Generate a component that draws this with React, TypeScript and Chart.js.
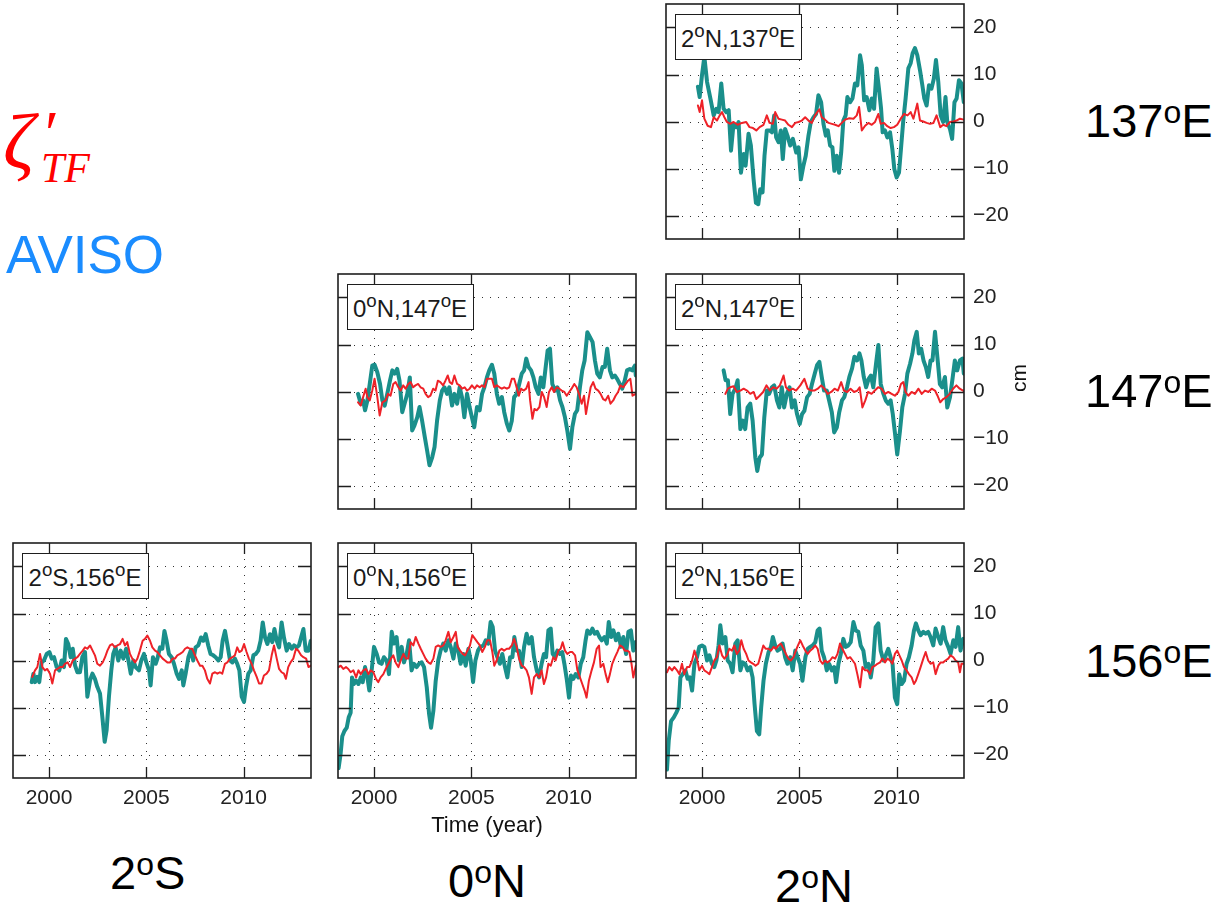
import React, { useEffect, useRef } from 'react';
import { Chart, registerables } from 'chart.js';

Chart.register(...registerables);

// ---------- axis definitions ----------
const X_MIN = 1998.15;
const X_MAX = 2013.46;
const Y_MIN = -25;
const Y_MAX = 25;
const X_TICKS = [2000, 2005, 2010];
const Y_TICKS = [-20, -10, 0, 10, 20];

// ---------- data: [year, cm] ----------
const AVISO_2N_137E: [number, number][] = [
  [1999.79, 7.4], [1999.88, 5.2], [2000.0, 9.9], [2000.12, 13.8], [2000.26, 8.4], [2000.43, 4.9], [2000.6, 1.3], [2000.74, 2.7], [2000.85, 2], [2000.99, 8.1],
  [2001.11, 2.7], [2001.25, 2], [2001.37, 2.4], [2001.49, -6.2], [2001.62, -0.5], [2001.76, -1.2], [2001.88, -0.1], [2002.0, -10.9], [2002.14, -6.9], [2002.24, -9.4],
  [2002.39, -2.6], [2002.51, -5.1], [2002.65, -12.3], [2002.77, -17.3], [2002.89, -17.6], [2002.99, -14.4], [2003.11, -15.1], [2003.21, -7.3], [2003.33, -1.9], [2003.47, -1.9],
  [2003.59, -2.3], [2003.71, 1.3], [2003.81, -3.4], [2003.93, -4.4], [2004.05, -1.9], [2004.15, -8], [2004.27, -1.6], [2004.39, -3], [2004.53, -5.1], [2004.67, -3.7],
  [2004.84, -6.6], [2004.96, -5.5], [2005.08, -12.3], [2005.21, -9.4], [2005.33, -7.3], [2005.47, -3], [2005.59, -0.1], [2005.73, 0.9], [2005.86, 1.6], [2005.98, 5.6],
  [2006.12, 4.1], [2006.24, -0.5], [2006.36, -3], [2006.46, -1.9], [2006.58, -5.1], [2006.7, -5.5], [2006.8, -10.5], [2006.92, -7.3], [2007.04, -10.9], [2007.15, -6.6],
  [2007.26, 0.2], [2007.38, 1.3], [2007.47, 5.2], [2007.61, 4.1], [2007.73, 4.9], [2007.86, 8.1], [2007.98, 7.7], [2008.12, 14.1], [2008.21, 12], [2008.33, 4.5],
  [2008.46, 5.2], [2008.6, 2.4], [2008.72, 4.9], [2008.84, 2.7], [2008.97, 11.3], [2009.09, 7], [2009.2, 2.7], [2009.28, -2.3], [2009.4, -1.9], [2009.52, -3.4],
  [2009.66, -2.3], [2009.78, -5.9], [2009.88, -10.1], [2010.0, -11.9], [2010.12, -10.9], [2010.22, -5.9], [2010.34, 0.2], [2010.46, 4.9], [2010.6, 11.3], [2010.72, 12.4],
  [2010.82, 14.5], [2010.94, 15.6], [2011.06, 14.1], [2011.2, 10.9], [2011.32, 7.7], [2011.42, 4.9], [2011.54, 3.4], [2011.66, 7.7], [2011.79, 7], [2011.91, 9.1],
  [2012.02, 13.1], [2012.14, 8.4], [2012.26, 1.3], [2012.39, -0.1], [2012.51, 5.2], [2012.6, -0.1], [2012.74, -1.6], [2012.85, -3.7], [2012.97, 4.1], [2013.08, 4.9],
  [2013.2, 8.8], [2013.33, 8.1], [2013.45, 4.1],
];
const TF_2N_137E: [number, number][] = [
  [1999.79, 3.4], [1999.88, 2], [2000.0, 4.5], [2000.12, 0.6], [2000.29, -0.9], [2000.46, -1.2], [2000.6, 0.9], [2000.77, 0.2], [2000.91, 1.3], [2001.03, 2],
  [2001.15, 0.9], [2001.28, -0.1], [2001.45, -0.5], [2001.62, -0.1], [2001.83, -0.7], [2002.05, -0.3], [2002.27, -0.1], [2002.44, -1.2], [2002.62, -1.4], [2002.79, -1.9],
  [2002.96, -1.2], [2003.16, -0.7], [2003.33, 1.3], [2003.47, -0.3], [2003.64, -0.5], [2003.76, 2], [2003.93, 0.6], [2004.1, 0.4], [2004.27, 0.2], [2004.44, -0.7],
  [2004.62, -1.2], [2004.79, -0.3], [2004.96, -0.1], [2005.13, 0.2], [2005.3, 0.9], [2005.47, 0.2], [2005.64, -0.3], [2005.81, 1.3], [2005.92, 2], [2006.03, 2.6],
  [2006.15, 0.9], [2006.32, 0.4], [2006.5, -0.3], [2006.67, -0.5], [2006.84, -0.7], [2007.01, -1], [2007.18, -0.3], [2007.35, 0.4], [2007.57, 0.7], [2007.78, 0.6],
  [2007.95, 1.3], [2008.07, 3.1], [2008.21, -1.9], [2008.38, -0.9], [2008.55, -0.3], [2008.72, -0.7], [2008.89, -0.1], [2009.06, 1.6], [2009.18, -0.5], [2009.35, -0.3],
  [2009.52, -1], [2009.69, -1.4], [2009.86, -1.2], [2010.03, -0.7], [2010.21, 0.6], [2010.38, 1.6], [2010.56, 1.3], [2010.72, 2], [2010.86, 0.6], [2011.06, 3.8],
  [2011.2, 0.2], [2011.37, 0], [2011.54, -0.3], [2011.71, -0.5], [2011.89, -0.3], [2012.05, 1.3], [2012.24, -1.2], [2012.39, -0.7], [2012.56, -1], [2012.74, -0.1],
  [2012.91, 0], [2013.08, 0.2], [2013.25, 0.6], [2013.45, 0.4],
];

const AVISO_0N_147E: [number, number][] = [
  [1999.18, -0.5], [1999.32, -2.6], [1999.44, -1.9], [1999.54, -4], [1999.66, -1.9], [1999.78, 1.6], [1999.91, 5.5], [2000.03, 5.7], [2000.17, 4.1], [2000.31, 1.6],
  [2000.43, -1.9], [2000.55, -3], [2000.68, -0.5], [2000.82, 2.3], [2000.94, 4.5], [2001.06, 3.8], [2001.19, 4.8], [2001.31, 2.3], [2001.45, -4.4], [2001.57, -2.6],
  [2001.71, -0.5], [2001.84, 3], [2001.96, -8.3], [2002.08, -7.2], [2002.22, -5.5], [2002.34, -3.3], [2002.47, -6.2], [2002.61, -9.7], [2002.73, -12.6], [2002.85, -15.7],
  [2002.99, -14], [2003.11, -11.8], [2003.24, -6.2], [2003.38, -1.9], [2003.5, 0.2], [2003.62, 0.9], [2003.75, -0.5], [2003.87, 0.9], [2004.01, -3], [2004.13, -0.5],
  [2004.27, -2.6], [2004.4, 0.9], [2004.52, -1.2], [2004.64, -5.5], [2004.78, -0.5], [2004.91, -3.3], [2005.03, -5.5], [2005.15, -7.6], [2005.29, -3.3], [2005.43, -4],
  [2005.55, -0.5], [2005.67, 0.9], [2005.8, 3], [2005.92, 4.5], [2006.06, 5.7], [2006.18, 3.8], [2006.31, -0.5], [2006.43, -2.6], [2006.57, -1.2], [2006.69, -4.4],
  [2006.83, -6.9], [2006.95, -8.3], [2007.08, -6.2], [2007.2, -1.2], [2007.34, -0.5], [2007.46, 1.6], [2007.59, 3.8], [2007.71, 4.5], [2007.82, 7], [2007.94, 5.2],
  [2008.07, 4.5], [2008.19, 3], [2008.31, 0.9], [2008.45, -0.5], [2008.57, 3], [2008.7, 0.9], [2008.82, 5.2], [2008.92, 8.7], [2009.04, 9.1], [2009.16, 1.6],
  [2009.3, 0.2], [2009.42, 0.9], [2009.56, -1.9], [2009.68, -3.3], [2009.81, -5.5], [2009.93, -8.3], [2010.07, -12.2], [2010.19, -7.6], [2010.32, -4.8], [2010.44, -4],
  [2010.58, 0.9], [2010.7, 4.5], [2010.82, 6.6], [2010.96, 12.6], [2011.09, 11.6], [2011.23, 10.5], [2011.35, 6.6], [2011.47, 3.8], [2011.6, 3], [2011.74, 5.2],
  [2011.86, 5.2], [2011.98, 9.1], [2012.12, 4.5], [2012.24, 3], [2012.37, 3.4], [2012.49, 2.7], [2012.63, 1.6], [2012.75, 0.6], [2012.88, 2.3], [2013.0, 4.5],
  [2013.14, 4.8], [2013.26, 4.5], [2013.4, 5.5], [2013.45, 3.4],
];
const TF_0N_147E: [number, number][] = [
  [1999.18, -2.3], [1999.32, -3], [1999.44, -1.2], [1999.57, 0.6], [1999.66, -1.2], [1999.78, -1.9], [1999.91, 0.2], [2000.03, 2.7], [2000.17, -1.2], [2000.29, -5.1],
  [2000.43, -2.3], [2000.6, -1.9], [2000.72, -0.5], [2000.85, -0.9], [2000.99, 1.6], [2001.11, 2], [2001.25, 0.9], [2001.37, 0.2], [2001.5, 1.3], [2001.62, 0.6],
  [2001.76, 1.6], [2001.88, 2], [2002.01, 0.9], [2002.13, 1.3], [2002.27, 1.6], [2002.39, 0.9], [2002.53, 0.6], [2002.65, -0.5], [2002.78, -1.2], [2002.9, -0.9],
  [2003.04, 0.6], [2003.16, 0.2], [2003.28, 2.3], [2003.41, 2], [2003.55, 1.3], [2003.67, 2.3], [2003.79, 3.4], [2003.89, 2], [2004.01, 1.6], [2004.13, 3.4],
  [2004.27, 1.6], [2004.4, 1.3], [2004.52, 0.6], [2004.66, 0.9], [2004.78, 0.2], [2004.91, 0.6], [2005.03, 1.3], [2005.17, 0.6], [2005.29, 1.3], [2005.43, 0.9],
  [2005.55, 1.3], [2005.68, 0.9], [2005.8, 2.7], [2005.94, 2.7], [2006.06, 2.7], [2006.18, 0.9], [2006.31, 1.3], [2006.45, 0.9], [2006.57, 0.6], [2006.69, 0.9],
  [2006.83, 0.6], [2006.95, 0.9], [2007.08, 2.7], [2007.2, 2.7], [2007.3, 1.3], [2007.44, -0.9], [2007.56, 0.6], [2007.68, 0.2], [2007.82, 0.6], [2007.94, 2],
  [2008.02, -1.9], [2008.14, -5.8], [2008.24, -3.7], [2008.36, -4], [2008.5, -3.3], [2008.62, -0.1], [2008.74, -1.2], [2008.87, -3.3], [2008.99, -0.1], [2009.13, 0.9],
  [2009.25, -0.1], [2009.39, 0.9], [2009.52, 0.6], [2009.64, 0.2], [2009.78, -0.1], [2009.9, -0.9], [2010.03, -0.1], [2010.15, 0.6], [2010.29, 1.6], [2010.41, 0.9],
  [2010.53, -0.5], [2010.67, -2.6], [2010.79, -0.9], [2010.89, -4.8], [2011.01, -1.9], [2011.13, 0.9], [2011.26, 2], [2011.38, 0.6], [2011.52, 0.2], [2011.64, -0.5],
  [2011.77, -1.6], [2011.89, -1.9], [2012.03, -0.9], [2012.15, -2.6], [2012.29, -1.9], [2012.41, -0.9], [2012.54, -0.1], [2012.66, 1.3], [2012.8, 0.9], [2012.93, 1.6],
  [2013.05, 2.3], [2013.17, 2.7], [2013.28, -0.9], [2013.45, -0.5],
];

const AVISO_2N_147E: [number, number][] = [
  [2001.11, 4.5], [2001.21, 2.4], [2001.33, 2.4], [2001.45, -4.8], [2001.57, -0.5], [2001.71, 0.6], [2001.83, 2.4], [2001.97, -8], [2002.1, -6.2], [2002.22, -8],
  [2002.34, -3.4], [2002.48, -2.6], [2002.6, -6.2], [2002.74, -14.1], [2002.84, -16.9], [2002.96, -14.1], [2003.08, -13.4], [2003.2, -5.5], [2003.33, 0.2], [2003.45, -0.5],
  [2003.59, 0.9], [2003.71, 1.3], [2003.85, -1.9], [2003.97, -3.4], [2004.1, 0.9], [2004.22, -3.4], [2004.36, -0.5], [2004.5, 0.9], [2004.62, -3.4], [2004.76, -1.9],
  [2004.88, -4.8], [2005.02, -6.9], [2005.14, -4.8], [2005.26, -4.1], [2005.4, -1.2], [2005.53, -0.5], [2005.65, 1.6], [2005.79, 3.8], [2005.91, 5.6], [2006.03, 6.3],
  [2006.15, 3.1], [2006.27, 0.2], [2006.41, 0.2], [2006.53, -1.9], [2006.67, -4.4], [2006.79, -8.7], [2006.93, -7.6], [2007.05, -4.4], [2007.19, -1.9], [2007.31, -1.2],
  [2007.45, 0.9], [2007.57, 3.1], [2007.71, 4.9], [2007.83, 7.4], [2007.97, 6.6], [2008.09, 8.1], [2008.19, 6.6], [2008.31, 3.1], [2008.43, 0.9], [2008.56, 2.7],
  [2008.68, 3.4], [2008.8, 0.9], [2008.94, 5.9], [2009.06, 9.9], [2009.18, 1.6], [2009.32, -0.5], [2009.44, -1.9], [2009.57, -2.6], [2009.69, -1.9], [2009.8, -4.8],
  [2009.92, -9.1], [2010.03, -13.4], [2010.17, -8.4], [2010.29, -3.4], [2010.43, -0.5], [2010.55, 3.8], [2010.69, 5.9], [2010.81, 8.1], [2010.91, 10.9], [2011.03, 12.7],
  [2011.14, 8.1], [2011.26, 9.1], [2011.38, 6.6], [2011.5, 5.2], [2011.62, 3.1], [2011.74, 6.6], [2011.84, 6.6], [2011.97, 12.7], [2012.09, 7.4], [2012.22, 1.6],
  [2012.34, 0.9], [2012.48, 3.1], [2012.6, -3.4], [2012.74, -1.2], [2012.86, 2.4], [2012.99, 6.6], [2013.11, 4.5], [2013.25, 6.6], [2013.38, 7], [2013.45, 3.8],
];
const TF_2N_147E: [number, number][] = [
  [2001.2, -0.5], [2001.33, 0.6], [2001.45, 0.9], [2001.62, 1.1], [2001.79, -0.1], [2001.97, 0.2], [2002.14, 0.6], [2002.31, 0.2], [2002.48, -0.5], [2002.65, -0.1],
  [2002.79, -1.6], [2002.96, -0.9], [2003.14, -0.1], [2003.31, 1.3], [2003.48, 0.2], [2003.66, 0.9], [2003.83, 0.6], [2004.0, 1.3], [2004.19, 3.4], [2004.31, 0.9],
  [2004.48, 0.2], [2004.66, 0.6], [2004.83, 0.2], [2005.05, 1.3], [2005.26, 2.7], [2005.43, 0.6], [2005.6, 0.2], [2005.77, 0.2], [2005.95, 0.6], [2006.12, 1.3],
  [2006.29, 0.6], [2006.46, -0.5], [2006.64, -0.1], [2006.81, 0.6], [2006.98, 0.2], [2007.15, 2], [2007.29, 0.2], [2007.46, -0.1], [2007.63, 0.6], [2007.81, -0.1],
  [2007.98, 0.2], [2008.1, 0.9], [2008.24, -3.4], [2008.39, -1.9], [2008.53, -0.1], [2008.71, -0.5], [2008.88, 0.2], [2009.05, 0.9], [2009.22, 0.6], [2009.4, -0.5],
  [2009.57, -0.1], [2009.74, -0.5], [2009.91, -0.9], [2010.09, -0.1], [2010.22, 1.6], [2010.34, 2], [2010.46, -0.1], [2010.6, -0.9], [2010.77, -0.1], [2010.94, -0.5],
  [2011.12, 0.6], [2011.29, -0.5], [2011.46, 0.2], [2011.63, -0.1], [2011.8, 0.6], [2011.97, 0.2], [2012.1, -0.9], [2012.24, -2.3], [2012.39, -1.6], [2012.56, -1.2],
  [2012.73, -0.5], [2012.9, 0.6], [2013.07, 1.3], [2013.24, 0.6], [2013.41, 0.2], [2013.45, 0.1],
];

const AVISO_2S_156E: [number, number][] = [
  [1999.11, -4.6], [1999.2, -2.8], [1999.28, -4.6], [1999.4, -3.5], [1999.5, -4.6], [1999.62, -0.4], [1999.74, 0], [1999.88, 1.4], [2000.02, 1.8], [2000.14, 0.4],
  [2000.26, 0.7], [2000.39, -1.4], [2000.53, -2.1], [2000.65, 0], [2000.77, -1.4], [2000.87, 4.6], [2000.99, 3.5], [2001.11, 0.7], [2001.22, 2.5], [2001.34, -1.1],
  [2001.46, -2.5], [2001.59, -2.5], [2001.71, 0.7], [2001.85, 1.8], [2001.97, -7.7], [2002.11, -4.2], [2002.23, -2.8], [2002.36, -3.9], [2002.48, -5.6], [2002.62, -7],
  [2002.74, -12], [2002.86, -17.3], [2002.96, -14.8], [2003.08, -7.7], [2003.2, -2.1], [2003.3, 1.4], [2003.42, 2.8], [2003.56, 0], [2003.68, 2.1], [2003.82, 0.4],
  [2003.96, 2.5], [2004.08, 0], [2004.2, -2.8], [2004.33, 0], [2004.45, -1.4], [2004.62, -2.1], [2004.74, 0], [2004.88, 1.4], [2005.0, -0.4], [2005.14, -2.1],
  [2005.22, -5.3], [2005.34, 0.7], [2005.48, -0.7], [2005.57, 0.4], [2005.7, 2.8], [2005.82, 2.5], [2005.93, 6.3], [2006.04, 4.2], [2006.16, 1.4], [2006.3, 0.7],
  [2006.42, -0.7], [2006.56, -2.8], [2006.68, -3.9], [2006.82, -2.1], [2006.9, -5.3], [2007.02, -2.8], [2007.16, 0.7], [2007.28, 2.1], [2007.41, 0], [2007.53, 2.8],
  [2007.67, 3.2], [2007.81, 4.9], [2007.93, 4.2], [2008.05, 5.6], [2008.18, 3.2], [2008.3, 1.4], [2008.44, 1.1], [2008.56, 0.7], [2008.7, 0], [2008.82, 0.7],
  [2008.92, 4.2], [2009.04, 6.3], [2009.16, 3.5], [2009.3, 0], [2009.42, -0.4], [2009.55, 0.4], [2009.67, -0.7], [2009.78, -2.1], [2009.9, -7.7], [2010.02, -8.8],
  [2010.12, -5.6], [2010.24, -2.8], [2010.36, -2.1], [2010.5, 1.1], [2010.62, 1.4], [2010.75, 2.1], [2010.87, 4.2], [2010.98, 8.1], [2011.1, 4.9], [2011.22, 3.5],
  [2011.35, 5.6], [2011.47, 3.9], [2011.58, 6.7], [2011.7, 4.2], [2011.82, 2.8], [2011.95, 8.1], [2012.07, 4.9], [2012.21, 2.1], [2012.33, 3.5], [2012.47, 2.5],
  [2012.59, 3.2], [2012.72, 2.8], [2012.84, 3.2], [2012.95, 4.9], [2013.07, 6.7], [2013.19, 2.1], [2013.33, 2.1], [2013.45, 4.2],
];
const TF_2S_156E: [number, number][] = [
  [1999.14, -3.5], [1999.28, -2.1], [1999.4, -1.4], [1999.54, 1.4], [1999.66, -1.4], [1999.79, -2.1], [1999.91, -1.8], [2000.05, -2.8], [2000.17, -4.9], [2000.31, -2.1],
  [2000.43, -1.8], [2000.57, -1.4], [2000.7, -1.4], [2000.82, -0.7], [2000.96, -0.4], [2001.08, -1.4], [2001.22, 0], [2001.34, 0.4], [2001.46, 0.7], [2001.59, 1.4],
  [2001.73, 2.1], [2001.85, 2.8], [2001.97, 2.5], [2002.11, 3.2], [2002.24, 2.1], [2002.36, 1.1], [2002.48, -0.7], [2002.62, -1.1], [2002.76, -0.4], [2002.88, 0.7],
  [2003.0, 2.1], [2003.13, 3.2], [2003.25, 3.5], [2003.39, 2.8], [2003.51, 3.2], [2003.65, 3.5], [2003.78, 4.6], [2003.9, 3.2], [2004.02, 3.9], [2004.16, 1.4],
  [2004.28, 0.4], [2004.42, -0.4], [2004.54, 0.4], [2004.67, 2.1], [2004.81, 4.2], [2004.93, 4.6], [2005.05, 5.3], [2005.19, 4.2], [2005.31, 2.8], [2005.45, 2.1],
  [2005.57, 1.8], [2005.7, 1.1], [2005.84, 0.4], [2005.96, 0], [2006.08, -0.4], [2006.22, -0.4], [2006.35, 0.4], [2006.47, 0.4], [2006.59, 1.1], [2006.73, 1.4],
  [2006.87, 1.8], [2006.99, 2.5], [2007.11, 2.8], [2007.24, 2.5], [2007.36, 2.5], [2007.5, 1.1], [2007.62, 0], [2007.76, -1.1], [2007.88, -1.1], [2008.01, -2.1],
  [2008.13, -3.9], [2008.27, -4.9], [2008.39, -2.8], [2008.53, -2.5], [2008.65, -2.8], [2008.78, -2.5], [2008.9, -2.8], [2009.04, -0.7], [2009.16, -0.4], [2009.3, 0.4],
  [2009.42, 0.7], [2009.55, 1.1], [2009.67, 2.8], [2009.78, 1.8], [2009.9, 2.1], [2010.02, 3.5], [2010.15, 1.8], [2010.27, 0.4], [2010.41, -0.7], [2010.53, -2.1],
  [2010.67, -3.5], [2010.79, -4.9], [2010.92, -4.9], [2011.04, -3.2], [2011.18, -2.8], [2011.3, -2.1], [2011.44, 1.1], [2011.56, 3.2], [2011.7, 0.4], [2011.82, -1.8],
  [2011.95, -2.5], [2012.07, -2.8], [2012.17, -3.9], [2012.29, -1.4], [2012.41, -0.4], [2012.55, 0.4], [2012.69, 2.5], [2012.81, 2.1], [2012.95, 1.1], [2013.07, 0.7],
  [2013.21, 0.4], [2013.33, -1.4], [2013.45, -1.1],
];

const AVISO_0N_156E: [number, number][] = [
  [1998.18, -22.9], [1998.28, -20], [1998.37, -16.1], [1998.48, -15], [1998.6, -14.3], [1998.7, -12.1], [1998.8, -11.1], [1998.87, -3.6], [1998.97, -5], [1999.08, -4.3],
  [1999.2, -5], [1999.32, -3.6], [1999.42, -4.6], [1999.54, -1.4], [1999.66, -3.6], [1999.76, -6.4], [1999.88, -2.1], [2000.0, 2.9], [2000.14, 1.4], [2000.26, -0.4],
  [2000.39, -0.7], [2000.51, 0.7], [2000.65, 0], [2000.77, -2.9], [2000.91, 6.1], [2001.03, 3.6], [2001.16, 5], [2001.28, 0], [2001.42, 2.9], [2001.54, -0.4],
  [2001.68, 1.4], [2001.8, 4.3], [2001.93, -2.1], [2002.05, -0.7], [2002.19, -1.4], [2002.31, -0.7], [2002.45, -0.4], [2002.57, -1.4], [2002.71, -5.7], [2002.83, -11.4],
  [2002.93, -14.3], [2003.05, -10.7], [2003.17, -4.3], [2003.3, 0], [2003.42, 2.1], [2003.56, 3.6], [2003.68, 2.1], [2003.82, 4.3], [2003.94, 2.9], [2004.08, 0.4],
  [2004.2, 3.6], [2004.33, 2.1], [2004.45, -0.7], [2004.59, 1.4], [2004.71, -1.1], [2004.85, 2.5], [2004.97, 0], [2005.09, -4.6], [2005.21, 0], [2005.34, 2.1],
  [2005.46, 2.9], [2005.62, 3.2], [2005.74, 4.3], [2005.87, 3.6], [2005.99, 8.2], [2006.1, 7.1], [2006.22, 2.1], [2006.34, 0.7], [2006.47, -0.7], [2006.59, 1.4],
  [2006.73, -1.4], [2006.85, -3.6], [2006.99, 0.7], [2007.11, 0.7], [2007.21, 5], [2007.33, 2.1], [2007.45, 2.1], [2007.59, -1.4], [2007.71, 2.9], [2007.84, 5.7],
  [2007.96, 3.6], [2008.1, 5], [2008.22, 0.7], [2008.36, -2.1], [2008.48, -3.6], [2008.61, -0.7], [2008.73, 1.4], [2008.84, 0.7], [2008.96, 6.4], [2009.08, 6.8],
  [2009.18, 1.4], [2009.3, 0.7], [2009.42, 2.1], [2009.55, 1.4], [2009.67, 1.8], [2009.78, -0.7], [2009.9, -3.9], [2010.02, -7.9], [2010.12, -3.2], [2010.24, -3.9],
  [2010.36, -2.9], [2010.5, -3.6], [2010.62, -0.7], [2010.75, 0.7], [2010.87, 4.3], [2010.96, 6.4], [2011.1, 5.7], [2011.22, 6.8], [2011.34, 5.7], [2011.46, 6.1],
  [2011.58, 5], [2011.7, 4.3], [2011.84, 5], [2011.96, 3.6], [2012.06, 8.2], [2012.18, 5], [2012.3, 6.4], [2012.43, 4.3], [2012.55, 5.7], [2012.69, 2.9],
  [2012.81, 5], [2012.95, 1.4], [2013.07, 6.1], [2013.2, 6.4], [2013.32, 2.1], [2013.45, 3.9],
];
const TF_0N_156E: [number, number][] = [
  [1998.18, -1.4], [1998.29, -1.1], [1998.42, -1.8], [1998.56, -1.4], [1998.68, -1.8], [1998.8, -2.5], [1998.94, -2.1], [1999.08, -3.6], [1999.2, -2.1], [1999.32, -2.9],
  [1999.45, -2.1], [1999.59, -1.8], [1999.71, -2.9], [1999.83, -2.1], [1999.97, -2.5], [2000.1, -3.9], [2000.22, -4.6], [2000.34, -3.6], [2000.48, -2.9], [2000.6, -1.8],
  [2000.74, -0.7], [2000.87, 0.4], [2000.99, 1.1], [2001.11, -0.4], [2001.25, -1.4], [2001.37, 0], [2001.51, 1.4], [2001.64, 0.4], [2001.76, 0.4], [2001.88, 3.9],
  [2002.02, 3.2], [2002.14, 5], [2002.28, 3.6], [2002.4, 2.5], [2002.53, 1.4], [2002.65, 0.4], [2002.79, -0.4], [2002.91, -0.7], [2003.05, 0.4], [2003.17, 2.9],
  [2003.3, 3.2], [2003.42, 2.9], [2003.56, 3.2], [2003.68, 4.3], [2003.82, 6.1], [2003.94, 3.9], [2004.08, 5], [2004.2, 6.1], [2004.3, 2.9], [2004.42, 2.1],
  [2004.56, 1.4], [2004.68, 1.1], [2004.8, 2.1], [2004.93, 3.2], [2005.05, 5.4], [2005.19, 4.6], [2005.31, 3.9], [2005.44, 3.2], [2005.56, 1.8], [2005.7, 2.9],
  [2005.82, 4.3], [2005.96, 4.3], [2006.08, 1.8], [2006.18, -1.1], [2006.3, 0], [2006.44, 2.1], [2006.56, 2.5], [2006.68, 2.1], [2006.82, 2.5], [2006.94, 2.5],
  [2007.08, 3.2], [2007.2, 4.6], [2007.33, 2.9], [2007.45, 0.4], [2007.59, -1.1], [2007.71, -1.4], [2007.84, -2.1], [2007.96, -3.6], [2008.1, -7.1], [2008.22, -3.6],
  [2008.36, -2.9], [2008.48, -3.6], [2008.61, -2.1], [2008.73, -5], [2008.84, -3.6], [2008.96, -0.7], [2009.08, -1.1], [2009.21, 0.7], [2009.33, 0], [2009.47, 2.1],
  [2009.59, 2.5], [2009.69, 3.9], [2009.81, 2.1], [2009.93, 1.4], [2010.07, 1.8], [2010.19, 1.8], [2010.33, 1.1], [2010.45, -2.1], [2010.58, -3.6], [2010.7, -5],
  [2010.82, -6.4], [2010.92, -7.9], [2011.04, -4.3], [2011.18, -2.1], [2011.3, -0.4], [2011.44, 2.5], [2011.56, 3.2], [2011.64, -1.4], [2011.78, -0.7], [2011.9, -2.9],
  [2012.01, -4.6], [2012.12, -2.9], [2012.24, -0.7], [2012.38, 0.7], [2012.5, 1.8], [2012.64, 3.2], [2012.76, 2.9], [2012.89, 2.1], [2013.01, 2.1], [2013.12, 1.8],
  [2013.23, -0.7], [2013.32, -3.6], [2013.45, -1.1],
];

const AVISO_2N_156E: [number, number][] = [
  [1998.2, -23.2], [1998.29, -17.1], [1998.41, -12.9], [1998.55, -12.1], [1998.68, -11.1], [1998.8, -10], [1998.89, -3.6], [1999.01, -2.9], [1999.15, -2.1], [1999.26, -3.9],
  [1999.37, -3.6], [1999.49, -6.4], [1999.61, -0.7], [1999.74, 0.7], [1999.86, 2.9], [2000.0, 3.2], [2000.12, 2.9], [2000.26, 0], [2000.38, 1.1], [2000.51, -0.7],
  [2000.63, -1.4], [2000.74, 0], [2000.85, 3.2], [2000.94, 7.5], [2001.06, 3.6], [2001.2, 5], [2001.32, 0], [2001.45, -0.7], [2001.57, -2.5], [2001.71, 3.6],
  [2001.83, 4.3], [2001.97, -2.1], [2002.09, -0.4], [2002.22, -0.7], [2002.34, -2.1], [2002.48, -1.4], [2002.6, -3.6], [2002.7, -9.3], [2002.82, -15], [2002.94, -15.7],
  [2003.04, -10], [2003.16, -4.3], [2003.28, -0.7], [2003.42, 1.8], [2003.54, 2.9], [2003.64, 5], [2003.76, 3.2], [2003.88, 2.1], [2004.02, 2.5], [2004.14, 3.6],
  [2004.27, 0.7], [2004.39, -0.7], [2004.53, 0.7], [2004.66, -2.1], [2004.79, 2.1], [2004.91, 0.7], [2005.04, -0.7], [2005.16, -4.3], [2005.31, 0.7], [2005.43, 2.5],
  [2005.56, 2.9], [2005.68, 3.2], [2005.82, 3.9], [2005.94, 6.4], [2006.04, 6.8], [2006.15, 2.1], [2006.27, 0.7], [2006.41, -2.1], [2006.53, -0.7], [2006.67, -2.1],
  [2006.79, -1.4], [2006.89, -4.6], [2007.01, -0.7], [2007.13, 1.4], [2007.26, 4.6], [2007.38, 2.9], [2007.52, 3.2], [2007.64, 3.9], [2007.78, 8.2], [2007.9, 6.4],
  [2008.03, 6.1], [2008.15, 3.2], [2008.29, 2.1], [2008.41, -1.4], [2008.55, -0.7], [2008.67, -3.6], [2008.8, 0], [2008.92, 7.1], [2009.06, 7.9], [2009.18, 2.1],
  [2009.32, 0], [2009.44, 1.1], [2009.57, 2.5], [2009.69, 0.7], [2009.79, -0.7], [2009.91, -7.9], [2010.03, -9.3], [2010.13, -2.9], [2010.26, -5], [2010.38, -4.3],
  [2010.51, -0.7], [2010.63, 0.7], [2010.77, 3.2], [2010.89, 6.4], [2010.99, 7.9], [2011.11, 6.4], [2011.23, 5.4], [2011.37, 6.1], [2011.49, 5.7], [2011.62, 6.1],
  [2011.74, 5], [2011.88, 3.2], [2012.0, 6.8], [2012.14, 5], [2012.26, 3.6], [2012.39, 7.1], [2012.51, 4.3], [2012.65, 2.9], [2012.77, 1.4], [2012.91, 4.3],
  [2013.03, 2.9], [2013.16, 7.1], [2013.28, 2.1], [2013.42, 4.6],
];
const TF_2N_156E: [number, number][] = [
  [1998.2, -2.5], [1998.32, -1.4], [1998.46, -2.1], [1998.58, -1.4], [1998.72, -2.1], [1998.84, -2.9], [1998.97, -0.7], [1999.09, -2.9], [1999.23, -1.4], [1999.35, -1.4],
  [1999.49, 0], [1999.61, 2.1], [1999.74, 0.4], [1999.86, -2.1], [2000.0, -1.1], [2000.12, -2.1], [2000.26, -2.5], [2000.38, -2.9], [2000.51, -1.4], [2000.63, 0],
  [2000.77, 0.7], [2000.89, 3.2], [2001.03, 1.1], [2001.15, 0.4], [2001.28, 1.1], [2001.4, 2.5], [2001.54, 2.1], [2001.66, 3.2], [2001.79, 1.4], [2001.91, 2.1],
  [2002.02, 4.3], [2002.14, 2.5], [2002.27, 1.4], [2002.39, 0], [2002.51, -0.4], [2002.63, -0.7], [2002.75, -1.1], [2002.89, -0.7], [2003.01, 1.1], [2003.15, 3.2],
  [2003.27, 2.5], [2003.41, 2.5], [2003.54, 2.1], [2003.68, 2.9], [2003.79, 2.5], [2003.93, 3.2], [2004.05, 3.6], [2004.19, 2.5], [2004.31, 1.4], [2004.44, 0.4],
  [2004.56, 0], [2004.7, 0.7], [2004.82, 2.1], [2004.93, 3.2], [2005.05, 4.3], [2005.17, 3.2], [2005.31, 2.1], [2005.43, 1.4], [2005.56, 2.1], [2005.68, 2.5],
  [2005.82, 3.2], [2005.94, 2.5], [2006.07, 0], [2006.2, -0.7], [2006.32, 0], [2006.44, -0.4], [2006.58, 0], [2006.7, 0.7], [2006.84, 0.4], [2006.96, 1.4],
  [2007.09, 3.6], [2007.21, 2.5], [2007.35, 1.4], [2007.47, 0.4], [2007.61, 0.7], [2007.74, 0], [2007.86, -0.7], [2007.98, -2.9], [2008.12, -5.7], [2008.24, -1.4],
  [2008.38, -2.1], [2008.5, -2.1], [2008.63, -2.9], [2008.75, -1.4], [2008.89, -1.1], [2009.01, -0.7], [2009.15, -0.4], [2009.27, 0.4], [2009.4, -0.4], [2009.53, 0.4],
  [2009.66, 0], [2009.78, -0.7], [2009.91, 1.4], [2010.03, 2.1], [2010.14, 1.1], [2010.26, 0], [2010.38, -1.4], [2010.51, -2.1], [2010.63, -2.9], [2010.77, -3.6],
  [2010.89, -5], [2010.99, -4.3], [2011.11, -2.9], [2011.23, -1.4], [2011.37, 0.4], [2011.49, 1.8], [2011.62, 0], [2011.74, -0.7], [2011.88, -0.4], [2012.0, -2.9],
  [2012.14, -1.1], [2012.26, -0.4], [2012.39, -0.4], [2012.51, 0], [2012.65, 0.4], [2012.77, 1.1], [2012.91, 0.7], [2013.03, 0], [2013.16, -0.4], [2013.25, -2.5],
  [2013.33, -0.7], [2013.45, -0.7],
];

// ---------- styles & layout ----------
const TEAL = '#1a8f8b';
const RED = '#ee2228';
const INK = '#1e1e1e';
const SANS = '"Liberation Sans", Arial, Helvetica, sans-serif';
const SERIF = '"Liberation Serif", "DejaVu Serif", "Times New Roman", serif';
const BOX_W = 298;
const BOX_H = 235;

type PanelDef = {
  lat: string; ns: string; lon: string;
  aviso: [number, number][]; tf: [number, number][];
  left: number; top: number; showX: boolean; showY: boolean;
};

const PANELS: PanelDef[] = [
  { lat: '2', ns: 'N', lon: '137', aviso: AVISO_2N_137E, tf: TF_2N_137E, left: 666, top: 4, showX: false, showY: true },
  { lat: '0', ns: 'N', lon: '147', aviso: AVISO_0N_147E, tf: TF_0N_147E, left: 338, top: 274, showX: false, showY: false },
  { lat: '2', ns: 'N', lon: '147', aviso: AVISO_2N_147E, tf: TF_2N_147E, left: 666, top: 274, showX: false, showY: true },
  { lat: '2', ns: 'S', lon: '156', aviso: AVISO_2S_156E, tf: TF_2S_156E, left: 13, top: 543, showX: true, showY: false },
  { lat: '0', ns: 'N', lon: '156', aviso: AVISO_0N_156E, tf: TF_0N_156E, left: 338, top: 543, showX: true, showY: false },
  { lat: '2', ns: 'N', lon: '156', aviso: AVISO_2N_156E, tf: TF_2N_156E, left: 666, top: 543, showX: true, showY: true },
];

const matlabAxes = {
  id: 'matlabAxes',
  beforeDatasetsDraw(chart: any) {
    const { ctx, chartArea: a, scales } = chart;
    const xs = scales.x, ys = scales.y;
    ctx.save();
    ctx.strokeStyle = '#333';
    ctx.lineWidth = 1;
    ctx.setLineDash([1, 7]);
    X_TICKS.forEach((v) => {
      const px = Math.round(xs.getPixelForValue(v)) + 0.5;
      ctx.beginPath(); ctx.moveTo(px, a.top); ctx.lineTo(px, a.bottom); ctx.stroke();
    });
    Y_TICKS.forEach((v) => {
      const py = Math.round(ys.getPixelForValue(v)) + 0.5;
      ctx.beginPath(); ctx.moveTo(a.left, py); ctx.lineTo(a.right, py); ctx.stroke();
    });
    ctx.restore();
  },
  afterDatasetsDraw(chart: any) {
    const { ctx, chartArea: a, scales } = chart;
    const xs = scales.x, ys = scales.y;
    ctx.save();
    ctx.setLineDash([]);
    ctx.strokeStyle = INK;
    ctx.lineWidth = 1.3;
    ctx.beginPath();
    X_TICKS.forEach((v) => {
      const px = Math.round(xs.getPixelForValue(v)) + 0.5;
      ctx.moveTo(px, a.bottom); ctx.lineTo(px, a.bottom - 11);
      ctx.moveTo(px, a.top); ctx.lineTo(px, a.top + 11);
    });
    Y_TICKS.forEach((v) => {
      const py = Math.round(ys.getPixelForValue(v)) + 0.5;
      ctx.moveTo(a.left, py); ctx.lineTo(a.left + 13, py);
      ctx.moveTo(a.right, py); ctx.lineTo(a.right - 13, py);
    });
    ctx.stroke();
    ctx.lineWidth = 1.6;
    ctx.strokeRect(a.left, a.top, a.right - a.left, a.bottom - a.top);
    ctx.restore();
  },
};

const PAD = 2;

function Panel({ p }: { p: PanelDef }) {
  const ref = useRef<HTMLCanvasElement | null>(null);
  const padR = p.showY ? 62 : PAD;
  const padB = p.showX ? 42 : PAD;
  const w = BOX_W + PAD + padR;
  const h = BOX_H + PAD + padB;
  useEffect(() => {
    const chart = new Chart(ref.current as HTMLCanvasElement, {
      type: 'line',
      data: {
        datasets: [
          {
            data: p.tf.map(([x, y]) => ({ x, y })),
            borderColor: RED, borderWidth: 2, pointRadius: 0, tension: 0,
            borderJoinStyle: 'round', borderCapStyle: 'round', order: 0,
          },
          {
            data: p.aviso.map(([x, y]) => ({ x, y })),
            borderColor: TEAL, borderWidth: 4, pointRadius: 0, tension: 0,
            borderJoinStyle: 'round', borderCapStyle: 'round', order: 1,
          },
        ],
      },
      options: {
        animation: false,
        responsive: false,
        parsing: false as any,
        layout: { padding: { left: PAD, top: PAD, right: 0, bottom: 0 } },
        plugins: { legend: { display: false }, tooltip: { enabled: false }, title: { display: false } },
        scales: {
          x: {
            type: 'linear', min: X_MIN, max: X_MAX,
            grid: { display: false, drawTicks: false, tickLength: 0 }, border: { display: false },
            afterBuildTicks: (s: any) => { s.ticks = X_TICKS.map((v) => ({ value: v })); },
            afterFit: (s: any) => { s.height = padB; s.paddingLeft = 0; s.paddingRight = 0; s.paddingTop = 0; s.paddingBottom = 0; },
            ticks: {
              display: p.showX, autoSkip: false, maxRotation: 0, padding: 8,
              color: '#222', font: { family: SANS, size: 21 },
              callback: (v: any) => String(v),
            },
          },
          y: {
            type: 'linear', position: 'right', min: Y_MIN, max: Y_MAX,
            grid: { display: false, drawTicks: false, tickLength: 0 }, border: { display: false },
            afterBuildTicks: (s: any) => { s.ticks = Y_TICKS.map((v) => ({ value: v })); },
            afterFit: (s: any) => { s.width = padR; s.paddingLeft = 0; s.paddingRight = 0; s.paddingTop = 0; s.paddingBottom = 0; },
            ticks: {
              display: p.showY, autoSkip: false, padding: 9,
              color: '#222', font: { family: SANS, size: 21 },
              callback: (v: any) => (v < 0 ? '\u2212' + Math.abs(v) : String(v)),
            },
          },
        },
      },
      plugins: [matlabAxes],
    } as any);
    return () => chart.destroy();
  }, []);
  return (
    <canvas
      ref={ref}
      width={w}
      height={h}
      style={{ position: 'absolute', left: p.left - PAD, top: p.top - PAD, width: w, height: h }}
    />
  );
}

const supSmall: React.CSSProperties = { fontSize: '0.78em', position: 'relative', top: -8, lineHeight: 0 };
const supBig: React.CSSProperties = { fontSize: '0.68em', position: 'relative', top: -14, lineHeight: 0 };

function BigLabel({ left, capTop, main, tail }: { left: number; capTop: number; main: string; tail: string }) {
  const fs = 47;
  return (
    <div style={{ position: 'absolute', left, top: capTop - 0.1305 * fs, fontFamily: SANS, fontSize: fs, lineHeight: 1, color: '#000', whiteSpace: 'nowrap' }}>
      {main}<span style={supBig}>o</span>{tail}
    </div>
  );
}

export default function App() {
  return (
    <div style={{ position: 'absolute', left: 0, top: 0, width: 1215, height: 905, background: '#fff', overflow: 'hidden' }}>
      {PANELS.map((p, i) => <Panel key={i} p={p} />)}
      {PANELS.map((p, i) => (
        <div
          key={'lbl' + i}
          style={{
            position: 'absolute', left: p.left + 8.5, top: p.top + 10, width: 127, height: 46,
            boxSizing: 'border-box', border: '1.3px solid ' + INK, background: '#fff',
            display: 'flex', alignItems: 'center', justifyContent: 'center',
            fontFamily: SANS, fontSize: 24, color: '#1a1a1a', whiteSpace: 'nowrap', paddingTop: 4,
          }}
        >
          {p.lat}<span style={supSmall}>o</span>{p.ns},{p.lon}<span style={supSmall}>o</span>E
        </div>
      ))}

      {/* y-axis unit */}
      <div style={{ position: 'absolute', left: 1018, top: 378, transform: 'translate(-50%, -50%) rotate(-90deg)', fontFamily: SANS, fontSize: 21, color: '#111', lineHeight: 1 }}>cm</div>
      {/* x-axis title */}
      <div style={{ position: 'absolute', left: 338, width: 298, top: 817 - 0.1305 * 22, textAlign: 'center', fontFamily: SANS, fontSize: 22, lineHeight: 1, color: '#111' }}>Time (year)</div>

      {/* row labels */}
      <BigLabel left={1085} capTop={103} main="137" tail="E" />
      <BigLabel left={1085} capTop={373} main="147" tail="E" />
      <BigLabel left={1085} capTop={643} main="156" tail="E" />
      {/* column labels */}
      <BigLabel left={110} capTop={855} main="2" tail="S" />
      <BigLabel left={448} capTop={863} main="0" tail="N" />
      <BigLabel left={775} capTop={868} main="2" tail="N" />

      {/* legend */}
      <div style={{ position: 'absolute', left: 3, top: 168 - 0.8375 * 78, fontFamily: SERIF, fontStyle: 'italic', fontSize: 78, lineHeight: 1, color: '#ff0000' }}>ζ</div>
      <div style={{ position: 'absolute', left: 41, top: 156 - 0.8375 * 64, fontFamily: SERIF, fontStyle: 'italic', fontSize: 64, lineHeight: 1, color: '#ff0000' }}>′</div>
      <div style={{ position: 'absolute', left: 41, top: 182 - 0.8375 * 42, fontFamily: SERIF, fontStyle: 'italic', fontSize: 42, lineHeight: 1, color: '#ff0000' }}>TF</div>
      <div style={{ position: 'absolute', left: 6, top: 235 - 0.1305 * 53, fontFamily: SANS, fontSize: 53, lineHeight: 1, color: '#1a8cff' }}>AVISO</div>
    </div>
  );
}
